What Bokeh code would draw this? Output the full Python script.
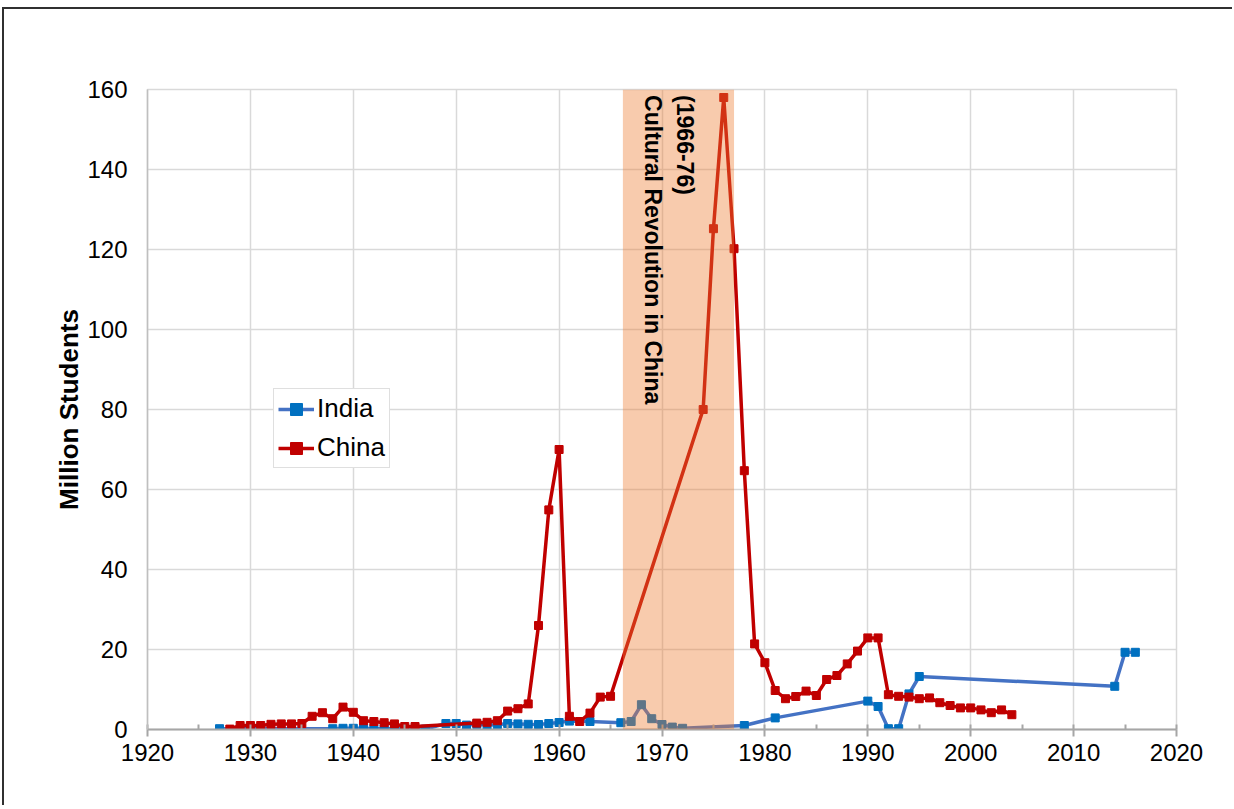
import math
from bokeh.plotting import figure
from bokeh.models import (ColumnDataSource, BoxAnnotation, Label, Legend, LegendItem,
                          SingleIntervalTicker, Range1d)
from bokeh.embed import file_html
from bokeh.resources import INLINE

# ---- data ----
india_years = [1927, 1938, 1939, 1940, 1941, 1942, 1943, 1944, 1945, 1946, 1947,
               1949, 1950, 1951, 1952, 1953, 1954, 1955, 1956, 1957, 1958, 1959, 1960, 1961,
               1963, 1966, 1967, 1968, 1969, 1970, 1971, 1972, 1978, 1981,
               1990, 1991, 1992, 1993, 1994, 1995, 2014, 2015, 2016]
india_values = [0.2, 0.2, 0.3, 0.3, 0.3, 0.2, 0.2, 0.2, 0.2, 0.1, 0.1,
                1.5, 1.5, 1.1, 1.3, 1.1, 1.2, 1.5, 1.4, 1.3, 1.25, 1.5, 1.75, 2.1,
                2.0, 1.7, 2.0, 6.2, 2.7, 1.25, 0.6, 0.3, 1.0, 2.9,
                7.1, 5.75, 0.2, 0.2, 8.9, 13.25, 10.8, 19.3, 19.3]

china_years = [1928, 1929, 1930, 1931, 1932, 1933, 1934, 1935, 1936, 1937, 1938, 1939,
               1940, 1941, 1942, 1943, 1944, 1945, 1946,
               1952, 1953, 1954, 1955, 1956, 1957, 1958, 1959, 1960, 1961, 1962, 1963,
               1964, 1965, 1974, 1975, 1976, 1977, 1978, 1979, 1980, 1981, 1982, 1983,
               1984, 1985, 1986, 1987, 1988, 1989, 1990, 1991, 1992, 1993, 1994, 1995,
               1996, 1997, 1998, 1999, 2000, 2001, 2002, 2003, 2004]
china_values = [0.1, 1.0, 1.0, 1.0, 1.3, 1.4, 1.4, 1.5, 3.3, 4.2, 2.7, 5.6,
                4.3, 2.2, 2.0, 1.7, 1.4, 0.75, 0.75,
                1.6, 1.8, 2.2, 4.6, 5.2, 6.4, 26.0, 54.9, 70.0, 3.3, 2.0, 4.1,
                8.1, 8.3, 80.0, 125.2, 158.0, 120.2, 64.7, 21.4, 16.7, 9.75, 7.7, 8.25,
                9.6, 8.5, 12.5, 13.5, 16.4, 19.6, 22.9, 22.9, 8.7, 8.3, 8.1, 7.7,
                7.9, 6.7, 6.0, 5.4, 5.4, 4.9, 4.2, 4.9, 3.7]

band_start, band_end = 1966.2, 1977.0
band_title = "Cultural Revolution in China"
band_years = "(1966-76)"
x_ticks_range = (1920, 2020)
y_ticks_range = (0, 160)

# ---- figure ----
p = figure(width=1230, height=798, output_backend="svg", toolbar_location=None,
           x_range=Range1d(*x_ticks_range), y_range=Range1d(*y_ticks_range),
           min_border_left=143, min_border_right=58, min_border_top=80, min_border_bottom=78,
           styles={"border-top": "2px solid #303030", "border-left": "2px solid #303030",
                   "margin-top": "7px", "margin-left": "2px"})
p.background_fill_color = "white"
p.border_fill_color = "white"
p.outline_line_color = "#D9D9D9"
p.outline_line_width = 1.5

p.xaxis.ticker = SingleIntervalTicker(interval=10, num_minor_ticks=2)
p.yaxis.ticker = SingleIntervalTicker(interval=20, num_minor_ticks=0)

p.xgrid.grid_line_color = "#D9D9D9"
p.ygrid.grid_line_color = "#D9D9D9"
p.xgrid.grid_line_width = 1.5
p.ygrid.grid_line_width = 1.5

for ax in (p.xaxis[0], p.yaxis[0]):
    ax.major_label_text_font = "Liberation Sans"
    ax.major_label_text_font_size = "24px"
    ax.major_label_text_color = "#000000"
    ax.axis_label_text_font = "Liberation Sans"

p.xaxis.axis_line_color = "#A6A6A6"
p.xaxis.axis_line_width = 2
p.xaxis.major_tick_line_color = "#A6A6A6"
p.xaxis.major_tick_line_width = 2
p.xaxis.major_tick_in = 0
p.xaxis.major_tick_out = 7
p.xaxis.minor_tick_line_color = "#A6A6A6"
p.xaxis.minor_tick_line_width = 2
p.xaxis.minor_tick_in = 5
p.xaxis.minor_tick_out = 0
p.xaxis.major_label_standoff = 7

p.yaxis.axis_line_color = "#BFBFBF"
p.yaxis.axis_line_width = 1.5
p.yaxis.major_tick_in = 0
p.yaxis.major_tick_out = 0
p.yaxis.minor_tick_line_color = None
p.yaxis.major_label_standoff = 20
p.yaxis.axis_label = "Million Students"
p.yaxis.axis_label_text_font_style = "bold"
p.yaxis.axis_label_text_font_size = "26px"
p.yaxis.axis_label_text_color = "#000000"
p.yaxis.axis_label_standoff = 0

india_src = ColumnDataSource(dict(x=india_years, y=india_values))
china_src = ColumnDataSource(dict(x=china_years, y=china_values))

il = p.line("x", "y", source=india_src, line_color="#4472C4", line_width=3.5)
im = p.scatter("x", "y", source=india_src, marker="square", size=8,
               fill_color="#0070C0", line_color="#0070C0")
cl = p.line("x", "y", source=china_src, line_color="#C00000", line_width=3.5)
cm = p.scatter("x", "y", source=china_src, marker="square", size=8,
               fill_color="#C00000", line_color="#C00000")

band = BoxAnnotation(left=band_start, right=band_end, bottom=y_ticks_range[0], top=y_ticks_range[1],
                     fill_color="#ED7D31", fill_alpha=0.4, line_alpha=0)
p.add_layout(band)

lbl1 = Label(x=1969.1, y=158.6, text=band_title, angle=-math.pi / 2,
             text_align="left", text_baseline="middle", text_font="Liberation Sans",
             text_font_size="23px", text_font_style="bold", text_color="#000000")
lbl2 = Label(x=1972.2, y=158.6, text=band_years, angle=-math.pi / 2,
             text_align="left", text_baseline="middle", text_font="Liberation Sans",
             text_font_size="23px", text_font_style="bold", text_color="#000000")
p.add_layout(lbl1)
p.add_layout(lbl2)

legend = Legend(items=[LegendItem(label="India", renderers=[il, im]),
                       LegendItem(label="China", renderers=[cl, cm])],
                location=(126, 261))
legend.label_text_font = "Liberation Sans"
legend.label_text_font_size = "26px"
legend.label_text_color = "#000000"
legend.glyph_width = 36
legend.glyph_height = 30
legend.label_height = 30
legend.label_standoff = 3
legend.spacing = 8
legend.padding = 4
legend.margin = 0
legend.border_line_color = "#BFBFBF"
legend.border_line_width = 1.5
legend.background_fill_color = "white"
legend.background_fill_alpha = 1.0
p.add_layout(legend)

open("out.html", "w").write(file_html(p, INLINE))
